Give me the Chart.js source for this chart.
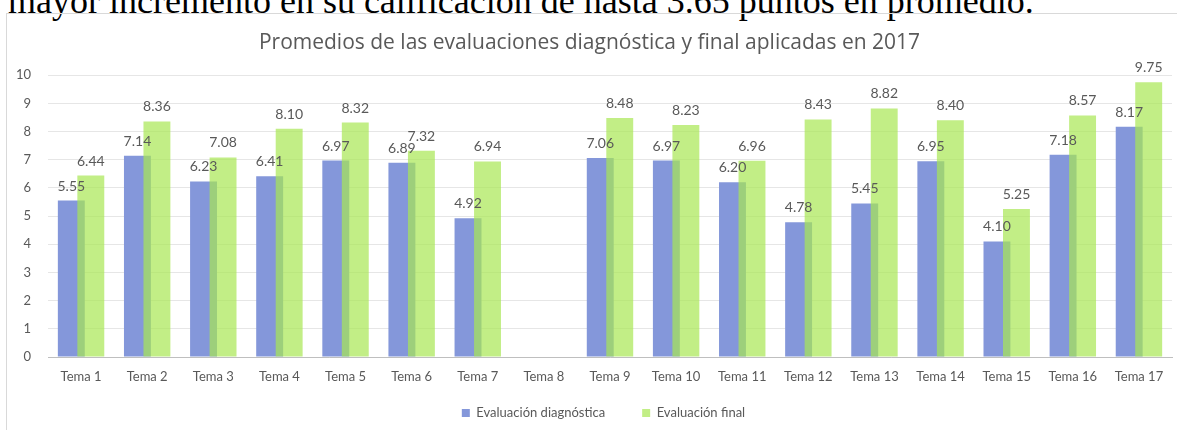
<!DOCTYPE html>
<html>
<head>
<meta charset="utf-8">
<script src="https://cdn.jsdelivr.net/npm/chart.js@4"></script>
<style>
  html, body { margin: 0; padding: 0; background: #fff; overflow: hidden; }
  body { width: 1177px; height: 430px; position: relative; }
  .lead {
    position: absolute; left: 8px; top: -17px;
    font-family: "Liberation Serif", serif; font-size: 36px; line-height: 36px;
    color: #000; white-space: nowrap;
  }
  .box {
    position: absolute; left: 6px; top: 13px; width: 1171px; height: 417px;
    border-left: 1px solid #d9d9d9; border-top: 1px solid #d9d9d9;
  }
</style>
</head>
<body>
<div class="lead">mayor incremento en su calificación de hasta 3.65 puntos en promedio.</div>
<div class="box"><canvas id="chart" width="1170" height="416"></canvas></div>
<script>
const temas = ["Tema 1", "Tema 2", "Tema 3", "Tema 4", "Tema 5", "Tema 6", "Tema 7", "Tema 8", "Tema 9",
  "Tema 10", "Tema 11", "Tema 12", "Tema 13", "Tema 14", "Tema 15", "Tema 16", "Tema 17"];
const diagnostica = [5.55, 7.14, 6.23, 6.41, 6.97, 6.89, 4.92, null, 7.06, 6.97, 6.20, 4.78, 5.45, 6.95, 4.10, 7.18, 8.17];
const final = [6.44, 8.36, 7.08, 8.10, 8.32, 7.32, 6.94, null, 8.48, 8.23, 6.96, 8.43, 8.82, 8.40, 5.25, 8.57, 9.75];
const yTicks = [0, 1, 2, 3, 4, 5, 6, 7, 8, 9, 10];

const gray = "#595959";
const font = "Lato, 'Open Sans', sans-serif";

// green bars sit on top of the blue ones, so draw them in index order
const drawInOrder = {
  id: "drawInOrder",
  beforeDatasetsDraw(chart) {
    chart.data.datasets.forEach((ds, i) => chart.getDatasetMeta(i).controller.draw());
  },
  beforeDatasetDraw() {
    return false;
  }
};

// legend keeps wide item spacing but a small box, pulled up and slightly right
const legendFit = {
  id: "legendFit",
  beforeLayout(chart) {
    const lg = chart.legend;
    if (!lg || lg._fixedFit) return;
    const fit = lg.fit;
    lg.fit = function () {
      fit.call(this);
      this.height = 43;
    };
    lg._fixedFit = true;
  },
  afterLayout(chart) {
    const lg = chart.legend;
    if (!lg) return;
    lg.top -= 17.5;
    lg.height = lg.bottom - lg.top;
    lg.left += 14;
    lg.right += 14;
  }
};

const valueLabels = {
  id: "valueLabels",
  afterDatasetsDraw(chart) {
    const ctx = chart.ctx;
    ctx.save();
    ctx.font = "14px " + font;
    ctx.fillStyle = gray;
    ctx.textAlign = "center";
    ctx.textBaseline = "alphabetic";
    chart.data.datasets.forEach((ds, i) => {
      chart.getDatasetMeta(i).data.forEach((bar, j) => {
        const v = ds.data[j];
        if (v == null) return;
        ctx.fillText(v.toFixed(2), bar.x, bar.y - 10);
      });
    });
    ctx.restore();
  }
};

new Chart(document.getElementById("chart"), {
  type: "bar",
  data: {
    labels: temas,
    datasets: [
      {
        label: "Evaluación diagnóstica",
        data: diagnostica,
        backgroundColor: "#8497da",
        categoryPercentage: 0.59,
        barPercentage: 1.38
      },
      {
        label: "Evaluación final",
        data: final,
        backgroundColor: "rgba(168, 231, 82, 0.7)",
        categoryPercentage: 0.59,
        barPercentage: 1.38
      }
    ]
  },
  options: {
    responsive: false,
    animation: false,
    layout: { padding: { left: 0, right: 5, top: 0, bottom: 0 } },
    plugins: {
      title: {
        display: true,
        text: "Promedios de las evaluaciones diagnóstica y final aplicadas en 2017",
        color: gray,
        font: { family: "'Open Sans', sans-serif", size: 21, weight: "normal" },
        padding: { top: 16.5, bottom: 19.5 }
      },
      legend: {
        position: "bottom",
        labels: {
          color: gray,
          font: { family: font, size: 13 },
          boxWidth: 8,
          boxHeight: 8,
          padding: 37
        }
      },
      tooltip: { enabled: false }
    },
    scales: {
      x: {
        grid: { display: false, drawTicks: false },
        border: { color: "#bfbfbf", width: 1 },
        afterFit: (scale) => { scale.height = 30; },
        ticks: { color: gray, font: { family: font, size: 13 }, padding: 12, maxRotation: 0, autoSkip: false }
      },
      y: {
        min: 0,
        max: 10,
        afterBuildTicks: (scale) => { scale.ticks = yTicks.map(v => ({ value: v })); },
        afterFit: (scale) => { scale.width = 41; },
        grid: { color: "#e6e6e6", drawTicks: false },
        border: { display: false },
        ticks: { color: gray, font: { family: font, size: 13 }, padding: 17 }
      }
    }
  },
  plugins: [drawInOrder, legendFit, valueLabels]
});
</script>
</body>
</html>
